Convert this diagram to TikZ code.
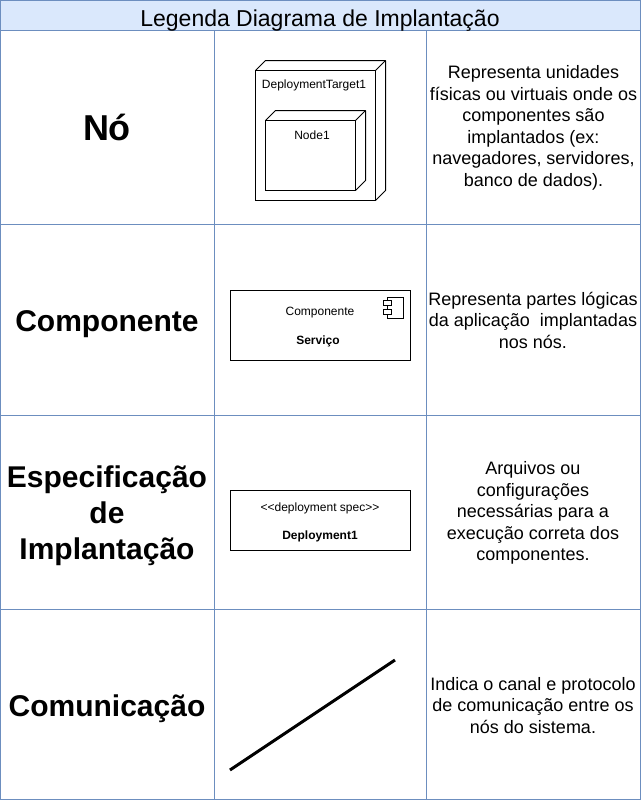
\documentclass[tikz,border=0pt]{standalone}
\usepackage{fontspec}
\setmainfont{Liberation Sans}
\definecolor{gridblue}{HTML}{6C8EBF}
\definecolor{headfill}{HTML}{DAE8FC}
\tikzset{
  grid line/.style={draw=gridblue,line width=0.75pt},
  uml/.style={draw=black,line width=0.75pt},
  label cell/.style={align=center,font=\fontsize{22.5}{27}\selectfont\bfseries,inner sep=0pt},
  desc/.style={align=center,font=\fontsize{13.5}{16.1}\selectfont,inner sep=0pt},
  small/.style={align=center,font=\fontsize{9}{10}\selectfont,inner sep=0pt},
  small bold/.style={align=center,font=\fontsize{9}{10}\selectfont\bfseries,inner sep=0pt},
  x=0.75pt,y=-0.75pt
}
\begin{document}
\begin{tikzpicture}
\useasboundingbox (0,0) rectangle (641,801);
\fill[white] (0,0) rectangle (641,801);
% table
\fill[headfill] (0.5,0.5) rectangle (640.5,30.5);
\draw[grid line] (0.5,0.5) rectangle (640.5,799.5);
\foreach \yy in {30.5,224.5,415.5,609.5} \draw[grid line] (0.5,\yy) -- (640.5,\yy);
\foreach \xx in {214.5,426.5} \draw[grid line] (\xx,30.5) -- (\xx,799.5);
\node[inner sep=0pt,font=\fontsize{17.25}{20}\selectfont] (title) at (320,20.5) {Legenda Diagrama de Implantação};
% labels
\node[label cell,font=\fontsize{27}{30}\selectfont\bfseries] (l1) at (107,127) {Nó};
\node[label cell] (l2) at (107,324) {Componente};
\node[label cell] (l3) at (107,516) {Especificação\\de\\Implantação};
\node[label cell] (l4) at (107,709) {Comunicação};
% descriptions
\node[desc] (d1) at (533.5,128) {Representa unidades\\físicas ou virtuais onde os\\componentes são\\implantados (ex:\\navegadores, servidores,\\banco de dados).};
\node[desc] (d2) at (533,320) {Representa partes lógicas\\da aplicação\ \ implantadas\\nos nós.};
\node[desc] (d3) at (533,513) {Arquivos ou\\configurações\\necessárias para a\\execução correta dos\\componentes.};
\node[desc] (d4) at (533,705.5) {Indica o canal e protocolo\\de comunicação entre os\\nós do sistema.};
% deployment target
\draw[uml,fill=white] (255.5,70.5) rectangle (375.5,200.5);
\draw[uml,line join=round] (255.5,70.5) -- (265.5,60.5) -- (385.5,60.5) -- (385.5,190.5) -- (375.5,200.5);
\draw[uml] (375.5,70.5) -- (385.5,60.5);
\node[small] (target) at (314,85) {DeploymentTarget1};
% inner node
\draw[uml,fill=white] (265.5,120.5) rectangle (355.5,190.5);
\draw[uml,line join=round] (265.5,120.5) -- (275.5,110.5) -- (365.5,110.5) -- (365.5,180.5) -- (355.5,190.5);
\draw[uml] (355.5,120.5) -- (365.5,110.5);
\node[small] (node1) at (312,135) {Node1};
% component
\draw[uml] (230.5,290.5) rectangle (410.5,360.5);
\node[small] (comp) at (320,313) {Componente};
\node[small bold] (serv) at (318,341) {Serviço};
\draw[uml] (387.5,297.5) rectangle (403.5,318.5);
\draw[uml,fill=white] (383.5,300.5) rectangle (391.5,305);
\draw[uml,fill=white] (383.5,309.5) rectangle (391.5,314);
% deployment spec
\draw[uml] (230.5,490.5) rectangle (410.5,550.5);
\node[small] (spec) at (320,508) {<{}<deployment spec>{}>};
\node[small bold] (dep) at (320,536) {Deployment1};
% communication
\coordinate (ca) at (230,770);
\coordinate (cb) at (395,660);
\draw[black,line width=2.25pt] (ca) -- (cb);
\end{tikzpicture}
\end{document}
